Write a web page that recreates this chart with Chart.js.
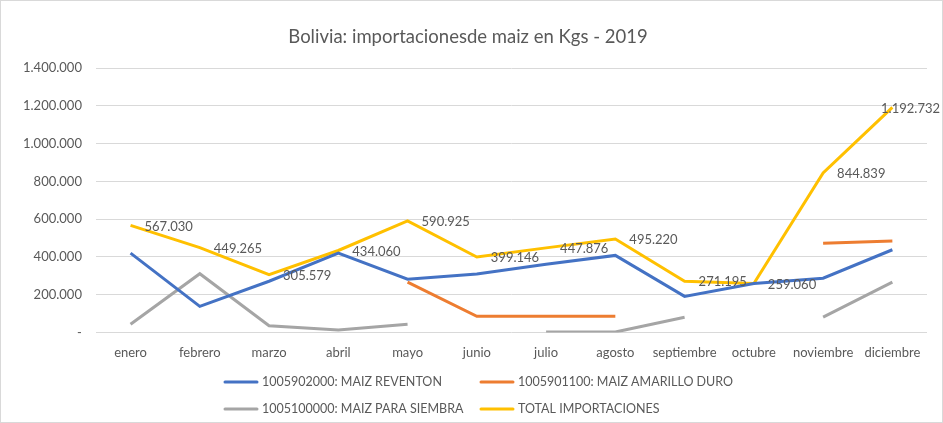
<!DOCTYPE html>
<html>
<head>
<meta charset="utf-8">
<script src="https://cdn.jsdelivr.net/npm/chart.js@4"></script>
<style>
  html, body { margin: 0; padding: 0; background: #fff; }
  #wrap { position: relative; width: 943px; height: 423px; box-sizing: border-box; border: 1px solid #d9d9d9; }
  canvas { display: block; }
</style>
</head>
<body>
<div id="wrap"><canvas id="chart" width="941" height="421"></canvas></div>
<script>
const months = ['enero', 'febrero', 'marzo', 'abril', 'mayo', 'junio', 'julio', 'agosto', 'septiembre', 'octubre', 'noviembre', 'diciembre'];

const reventon = [420000, 138000, 271000, 420000, 282000, 310000, 361000, 408000, 191000, 259060, 287000, 438000];
const amarilloDuro = [null, null, null, null, 266000, 85000, 85000, 85000, null, null, 473000, 484000];
const paraSiembra = [43000, 311000, 35000, 13000, 43000, null, 2000, 2000, 80000, null, 81000, 266000];
const totalImport = [567030, 449265, 305579, 434060, 590925, 399146, 447876, 495220, 271195, 259060, 844839, 1192732];

const seriesNames = ['1005902000: MAIZ REVENTON', '1005901100: MAIZ AMARILLO DURO', '1005100000: MAIZ PARA SIEMBRA', 'TOTAL IMPORTACIONES'];
const seriesColors = ['#4472c4', '#ed7d31', '#a5a5a5', '#ffc000'];

const FONT = 'Lato, "Noto Sans", sans-serif';
const GREY = '#595959';

function fmt(v) {
  if (v === 0) return '-';
  return Math.round(v).toString().replace(/\B(?=(\d{3})+(?!\d))/g, '.');
}

// value labels for the total line, placed right of each point
const totalLabels = {
  id: 'totalLabels',
  afterDatasetsDraw(chart) {
    const ctx = chart.ctx;
    const meta = chart.getDatasetMeta(3);
    ctx.save();
    ctx.font = '13px ' + FONT;
    ctx.fillStyle = GREY;
    ctx.textBaseline = 'middle';
    meta.data.forEach((pt, i) => {
      const txt = fmt(totalImport[i]);
      const w = ctx.measureText(txt).width;
      let x = pt.x + 14;
      if (x + w > chart.width - 2) x = chart.width - 2 - w;
      ctx.fillText(txt, x, pt.y + 1);
    });
    ctx.restore();
  }
};

// two-row legend like the original
const legendRows = {
  id: 'legendRows',
  afterDraw(chart) {
    const ctx = chart.ctx;
    const cols = [224, 480];
    const rows = [381, 408];
    ctx.save();
    ctx.font = '12.5px ' + FONT;
    ctx.textBaseline = 'middle';
    seriesNames.forEach((name, i) => {
      const x = cols[i % 2];
      const y = rows[Math.floor(i / 2)];
      ctx.strokeStyle = seriesColors[i];
      ctx.lineWidth = 3;
      ctx.lineCap = 'round';
      ctx.beginPath();
      ctx.moveTo(x, y);
      ctx.lineTo(x + 32, y);
      ctx.stroke();
      ctx.fillStyle = GREY;
      ctx.fillText(name, x + 37, y);
    });
    ctx.restore();
  }
};

const datasets = [reventon, amarilloDuro, paraSiembra, totalImport].map((d, i) => ({
  label: seriesNames[i],
  data: d,
  borderColor: seriesColors[i],
  backgroundColor: seriesColors[i],
  borderWidth: 3,
  pointRadius: 0,
  tension: 0,
  spanGaps: false
}));

new Chart(document.getElementById('chart'), {
  type: 'line',
  data: { labels: months, datasets: datasets },
  options: {
    responsive: false,
    animation: false,
    layout: { padding: { left: 8, right: 15, top: 0, bottom: 56 } },
    plugins: {
      legend: { display: false },
      tooltip: { enabled: false },
      title: {
        display: true,
        text: 'Bolivia: importacionesde maiz en Kgs - 2019',
        color: GREY,
        font: { family: FONT, size: 18.5, weight: 'normal' },
        padding: { top: 25, bottom: 20 }
      }
    },
    scales: {
      x: {
        offset: true,
        grid: { display: false },
        border: { display: false },
        ticks: { color: GREY, font: { family: FONT, size: 13 }, maxRotation: 0, padding: 5 }
      },
      y: {
        min: 0,
        max: 1400000,
        ticks: {
          stepSize: 200000,
          color: GREY,
          font: { family: FONT, size: 13 },
          padding: 14,
          callback: v => fmt(v)
        },
        grid: { color: '#d9d9d9', lineWidth: 1, drawTicks: false },
        border: { display: false }
      }
    }
  },
  plugins: [totalLabels, legendRows]
});
</script>
</body>
</html>
